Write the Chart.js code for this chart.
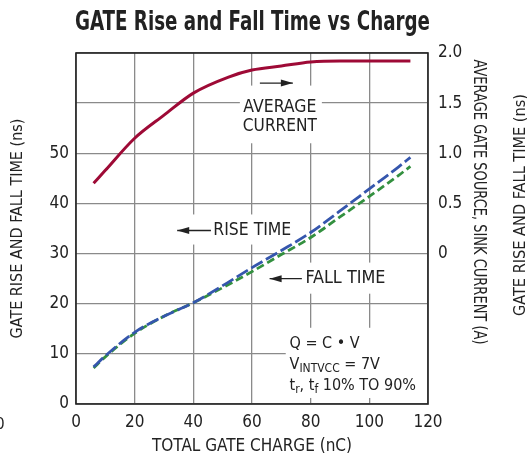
<!DOCTYPE html>
<html>
<head>
<meta charset="utf-8">
<script src="https://cdn.jsdelivr.net/npm/chart.js@4.4.0/dist/chart.umd.min.js"></script>
<style>
  html, body { margin: 0; padding: 0; background: #fff; }
  #wrap { width: 527px; height: 459px; }
</style>
</head>
<body>
<div id="wrap"><canvas id="grafica" width="527" height="459"></canvas></div>
<script>
// values
const riseCharge = [6, 10, 20, 30, 40, 50, 60, 70, 80, 90, 100, 110, 114];
const riseNs     = [7.4, 9.6, 14.3, 17.5, 20.2, 23.6, 27.2, 30.6, 34.2, 38.5, 42.9, 47.3, 49.2];
const fallNs     = [7.2, 9.4, 14.1, 17.5, 20.2, 23.2, 26.4, 29.8, 33.2, 37.3, 41.4, 45.6, 47.4];

const currentCharge = [6, 10, 20, 30, 40, 52, 60, 70, 80, 90, 100, 114];
const currentA      = [0.70, 0.83, 1.15, 1.38, 1.60, 1.76, 1.83, 1.87, 1.91, 1.92, 1.92, 1.92];

const xTicks = [0, 20, 40, 60, 80, 100, 120];
const leftLabels = [0, 10, 20, 30, 40, 50];
const rightLabels = [0, 0.5, 1.0, 1.5, 2.0];

const titulo = 'GATE Rise and Fall Time vs Charge';
const tituloDerecho = 'AVERAGE GATE SOURCE, SINK CURRENT (A)';

const FONT = "'Liberation Sans Narrow', 'DejaVu Sans Condensed', sans-serif";

function pts(xs, ys) {
    return xs.map((x, i) => ({ x: x, y: ys[i] }));
}

// text squeezed to a given length (the original uses a condensed face)
function textoAjustado(ctx, txt, x, y, largo, rot) {
    ctx.save();
    ctx.translate(x, y);
    ctx.rotate(rot || 0);
    const w = ctx.measureText(txt).width;
    ctx.scale(largo / w, 1);
    ctx.textAlign = 'center';
    ctx.fillText(txt, 0, 0);
    ctx.restore();
}

// white boxes with notes, drawn over the grid but under the curves
const notas = {
    id: 'notas',
    beforeDatasetsDraw(chart) {
        const ctx = chart.ctx;
        const x = chart.scales.x;
        const y = chart.scales.y;
        ctx.save();
        ctx.fillStyle = '#fff';
        function caja(x0, y0, x1, y1) {
            ctx.fillStyle = '#fff';
            ctx.fillRect(x0, y0, x1 - x0, y1 - y0);
        }
        function flecha(x0, x1, yy) {
            ctx.strokeStyle = '#222';
            ctx.lineWidth = 1.3;
            ctx.beginPath();
            ctx.moveTo(x0, yy);
            ctx.lineTo(x1, yy);
            ctx.stroke();
            const d = x1 > x0 ? 1 : -1;
            ctx.fillStyle = '#222';
            ctx.beginPath();
            ctx.moveTo(x1, yy);
            ctx.lineTo(x1 - d * 12, yy - 3.5);
            ctx.lineTo(x1 - d * 12, yy + 3.5);
            ctx.closePath();
            ctx.fill();
        }

        // AVERAGE CURRENT
        let cx = x.getPixelForValue(69.5);
        caja(cx - 40, y.getPixelForValue(63.5), cx + 42, y.getPixelForValue(52));
        flecha(cx - 20, cx + 13, y.getPixelForValue(64));
        // RISE TIME
        caja(x.getPixelForValue(32), y.getPixelForValue(37.8), x.getPixelForValue(75), y.getPixelForValue(31.8));
        flecha(x.getPixelForValue(46), x.getPixelForValue(34.5), y.getPixelForValue(34.6));
        // FALL TIME
        caja(x.getPixelForValue(65), y.getPixelForValue(28.2), x.getPixelForValue(107), y.getPixelForValue(22));
        flecha(x.getPixelForValue(77), x.getPixelForValue(66), y.getPixelForValue(25));
        // formula box
        caja(x.getPixelForValue(71.5), y.getPixelForValue(15.2), x.getPixelForValue(120) - 1, y.getPixelForValue(1.2));

        ctx.fillStyle = '#222';
        ctx.font = '17px ' + FONT;
        ctx.textBaseline = 'middle';
        textoAjustado(ctx, 'AVERAGE', cx, y.getPixelForValue(59.2), 73);
        textoAjustado(ctx, 'CURRENT', cx, y.getPixelForValue(55.4), 74);
        textoAjustado(ctx, 'RISE TIME', x.getPixelForValue(46.8) + 39, y.getPixelForValue(34.6), 78);
        textoAjustado(ctx, 'FALL TIME', x.getPixelForValue(78.2) + 40, y.getPixelForValue(25), 80);

        ctx.textAlign = 'left';
        ctx.font = '16px ' + FONT;
        const tx = x.getPixelForValue(72.8);
        ctx.fillText('Q = C \u2022 V', tx, y.getPixelForValue(12));
        let yy = y.getPixelForValue(7.8);
        ctx.fillText('V', tx, yy);
        let w = ctx.measureText('V').width;
        ctx.font = '12px ' + FONT;
        ctx.fillText('INTVCC', tx + w, yy + 4);
        w += ctx.measureText('INTVCC').width;
        ctx.font = '16px ' + FONT;
        ctx.fillText(' = 7V', tx + w, yy);
        yy = y.getPixelForValue(3.6);
        let px = tx;
        const partes = [['t', 16, 0], ['r', 12, 4], [', t', 16, 0], ['f', 12, 4], [' 10% TO 90%', 16, 0]];
        partes.forEach(p => {
            ctx.font = p[1] + 'px ' + FONT;
            ctx.fillText(p[0], px, yy + p[2]);
            px += ctx.measureText(p[0]).width;
        });
        ctx.restore();
    },
    afterDraw(chart) {
        const ctx = chart.ctx;
        const a = chart.chartArea;
        ctx.save();
        ctx.strokeStyle = '#222';
        ctx.lineWidth = 1.6;
        ctx.strokeRect(a.left, a.top, a.right - a.left, a.bottom - a.top);

        ctx.fillStyle = '#222';
        ctx.textBaseline = 'middle';
        // title
        ctx.font = 'bold 26px ' + FONT;
        textoAjustado(ctx, titulo, 252.5, 23, 355);
        // right axis title
        ctx.font = '17px ' + FONT;
        textoAjustado(ctx, tituloDerecho, 478, 202, 285, Math.PI / 2);

        // pieces of the neighbouring charts
        ctx.font = '16px ' + FONT;
        ctx.textAlign = 'center';
        ctx.fillText('0', 0, 425);
        textoAjustado(ctx, 'GATE RISE AND FALL TIME (ns)', 521, 205, 222, -Math.PI / 2);
        ctx.restore();
    }
};

const ctx = document.getElementById('grafica').getContext('2d');
const myChart = new Chart(ctx, {
    type: 'scatter',
    data: {
        datasets: [{
            label: 'AVERAGE CURRENT',
            data: pts(currentCharge, currentA),
            yAxisID: 'y2',
            borderColor: '#9e0a36',
            borderWidth: 3,
            showLine: true,
            pointRadius: 0,
            cubicInterpolationMode: 'monotone'
        }, {
            label: 'RISE TIME',
            data: pts(riseCharge, riseNs),
            yAxisID: 'y',
            borderColor: '#3556ad',
            borderWidth: 2.8,
            borderDash: [13, 4],
            showLine: true,
            pointRadius: 0,
            cubicInterpolationMode: 'monotone'
        }, {
            label: 'FALL TIME',
            data: pts(riseCharge, fallNs),
            yAxisID: 'y',
            borderColor: '#33903f',
            borderWidth: 2.8,
            borderDash: [8, 4],
            showLine: true,
            pointRadius: 0,
            cubicInterpolationMode: 'monotone'
        }]
    },
    options: {
        responsive: false,
        animation: false,
        layout: { padding: { top: 53 } },
        scales: {
            x: {
                type: 'linear',
                min: 0, max: 120,
                afterBuildTicks: s => { s.ticks = xTicks.map(v => ({ value: v })); },
                afterFit: s => { s.height = 55; },
                grid: { color: '#8a8a8a', lineWidth: 1.3, drawTicks: false },
                border: { display: false },
                ticks: { color: '#222', font: { family: FONT, size: 17 }, padding: 8 },
                title: { display: true, text: 'TOTAL GATE CHARGE (nC)', color: '#222',
                         font: { family: FONT, size: 17 }, padding: { top: 0, bottom: 2 } }
            },
            y: {
                position: 'left',
                min: 0, max: 70,
                afterBuildTicks: s => {
                    s.ticks = [0, 10, 20, 30, 40, 50, 60, 70].map(v => ({ value: v }));
                },
                afterFit: s => { s.width = 76; },
                grid: { color: '#8a8a8a', lineWidth: 1.3, drawTicks: false },
                border: { display: false },
                ticks: {
                    color: '#222', font: { family: FONT, size: 17 }, padding: 7,
                    callback: v => leftLabels.includes(v) ? String(v) : ''
                },
                title: { display: true, text: 'GATE RISE AND FALL TIME (ns)', color: '#222',
                         font: { family: FONT, size: 16 }, padding: { top: 8, bottom: 0 } }
            },
            y2: {
                position: 'right',
                min: -1.5, max: 2.0,
                afterBuildTicks: s => {
                    s.ticks = rightLabels.map(v => ({ value: v }));
                },
                afterFit: s => { s.width = 99; },
                grid: { display: false, drawTicks: false },
                border: { display: false },
                ticks: {
                    color: '#222', font: { family: FONT, size: 17 }, padding: 10,
                    callback: v => v === 0 ? '0' : v.toFixed(1)
                }
            }
        },
        plugins: {
            legend: { display: false },
            tooltip: { enabled: false },
            title: { display: false }
        }
    },
    plugins: [notas]
});
</script>
</body>
</html>
